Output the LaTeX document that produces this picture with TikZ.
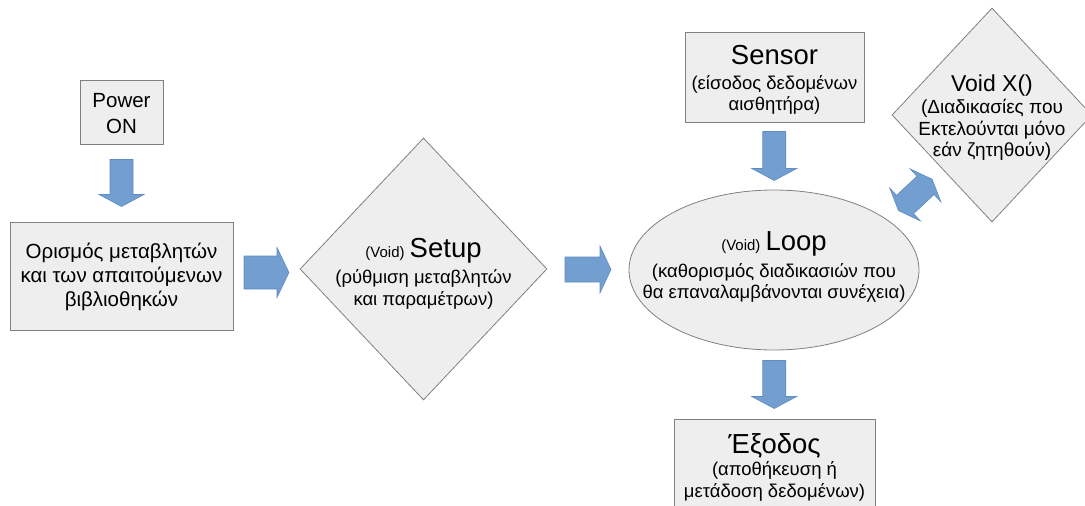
\documentclass[tikz,border=0pt]{standalone}
\usepackage{fontspec}
\setmainfont{Liberation Sans}
\usetikzlibrary{shapes.geometric,calc}

\definecolor{boxfill}{HTML}{EEEEEE}
\definecolor{boxline}{HTML}{808080}
\definecolor{arrowblue}{HTML}{729FCF}
\definecolor{arrowline}{HTML}{5F8CC4}

\newcommand{\titlefont}{\fontsize{27.5}{30}\selectfont}
\newcommand{\voidfont}{\fontsize{15}{18}\selectfont}
\newcommand{\subfont}{\fontsize{18.5}{22}\selectfont}
\newcommand{\boxfont}{\fontsize{20.5}{24}\selectfont}

\tikzset{
  box/.style={draw=boxline, fill=boxfill, line width=0.8pt, inner sep=0pt},
  txt/.style={align=center, inner sep=0pt},
  bluearrow/.style={fill=arrowblue, draw=arrowline, line width=0.6pt},
  % length, shaft, head width, head depth
  pics/blockarrow/.style n args={4}{code={
    \path[bluearrow] (-#1/2,-#2/2) -- (#1/2-#4,-#2/2) -- (#1/2-#4,-#3/2) -- (#1/2,0)
      -- (#1/2-#4,#3/2) -- (#1/2-#4,#2/2) -- (-#1/2,#2/2) -- cycle;
  }},
  pics/twowayarrow/.style n args={4}{code={
    \path[bluearrow] (-#1/2,0) -- (-#1/2+#4,#3/2) -- (-#1/2+#4,#2/2) -- (#1/2-#4,#2/2)
      -- (#1/2-#4,#3/2) -- (#1/2,0) -- (#1/2-#4,-#3/2) -- (#1/2-#4,-#2/2)
      -- (-#1/2+#4,-#2/2) -- (-#1/2+#4,-#3/2) -- cycle;
  }},
}

\begin{document}
\begin{tikzpicture}[x=1pt,y=-1pt]
  \useasboundingbox (0,0) rectangle (1085,506);

  % left column
  \node[box, minimum width=83, minimum height=64] (power) at (121.5,112) {};
  \node[txt, font=\fontsize{20.5}{26}\selectfont] (powertext) at (121.5,113.5) {Power\\ON};
  \node[box, minimum width=223, minimum height=108] (vars) at (121.5,276) {};
  \node[txt, font=\boxfont] (varstext) at (121.5,277) {Ορισμός μεταβλητών\\και των απαιτούμενων\\βιβλιοθηκών};

  % setup
  \node[box, diamond, minimum width=247, minimum height=262] (setup) at (423.5,269) {};
  \node[txt, font=\subfont] (setuptext) at (423.5,274)
    {{\voidfont (Void)} {\titlefont Setup}\\[4pt](ρύθμιση μεταβλητών\\και παραμέτρων)};

  % loop and what is round it
  \node[box, ellipse, minimum width=290, minimum height=160] (loop) at (774,270) {};
  \node[txt, font=\fontsize{18.5}{21}\selectfont] (looptext) at (774,267)
    {{\voidfont (Void)} {\titlefont Loop}\\[6pt](καθορισμός διαδικασιών που\\θα επαναλαμβάνονται συνέχεια)};
  \node[box, minimum width=179, minimum height=90] (sensor) at (774.5,77) {};
  \node[txt, font=\fontsize{18.5}{21}\selectfont] (sensortext) at (774.5,80)
    {{\titlefont Sensor}\\[4pt](είσοδος δεδομένων\\αισθητήρα)};
  \node[box, diamond, minimum width=200, minimum height=214] (voidx) at (992,115) {};
  \node[txt, font=\fontsize{19}{21.5}\selectfont] (voidxtext) at (992,118)
    {{\fontsize{23}{24}\selectfont Void X()}\\[0.5pt](Διαδικασίες που\\Εκτελούνται μόνο\\εάν ζητηθούν)};
  \node[box, minimum width=201, minimum height=100] (output) at (774.5,469) {};
  \node[txt, font=\subfont] (outputtext) at (774.5,467)
    {{\titlefont Έξοδος}\\(αποθήκευση ή\\μετάδοση δεδομένων)};

  % block arrows
  \pic[rotate=-90] at ($(power.south)!0.5!(vars.north)$) {blockarrow={47}{23}{45}{12}};
  \pic at ($(vars.east)!0.5!(setup.west)$) {blockarrow={45}{33}{50}{12}};
  \pic at ($(setup.east)!0.5!(loop.west)$) {blockarrow={46}{25}{47}{11}};
  \pic[rotate=-90] at ($(sensor.south)!0.5!(loop.north)$) {blockarrow={49}{23}{45}{12}};
  \pic[rotate=-90] at ($(loop.south)!0.5!(output.north)$) {blockarrow={48}{23}{45}{12}};
  \pic[rotate=43] at ($(loop.north east)!0.5!(voidx.south west)+(6,4)$) {twowayarrow={46}{25}{45}{9}};
\end{tikzpicture}
\end{document}
